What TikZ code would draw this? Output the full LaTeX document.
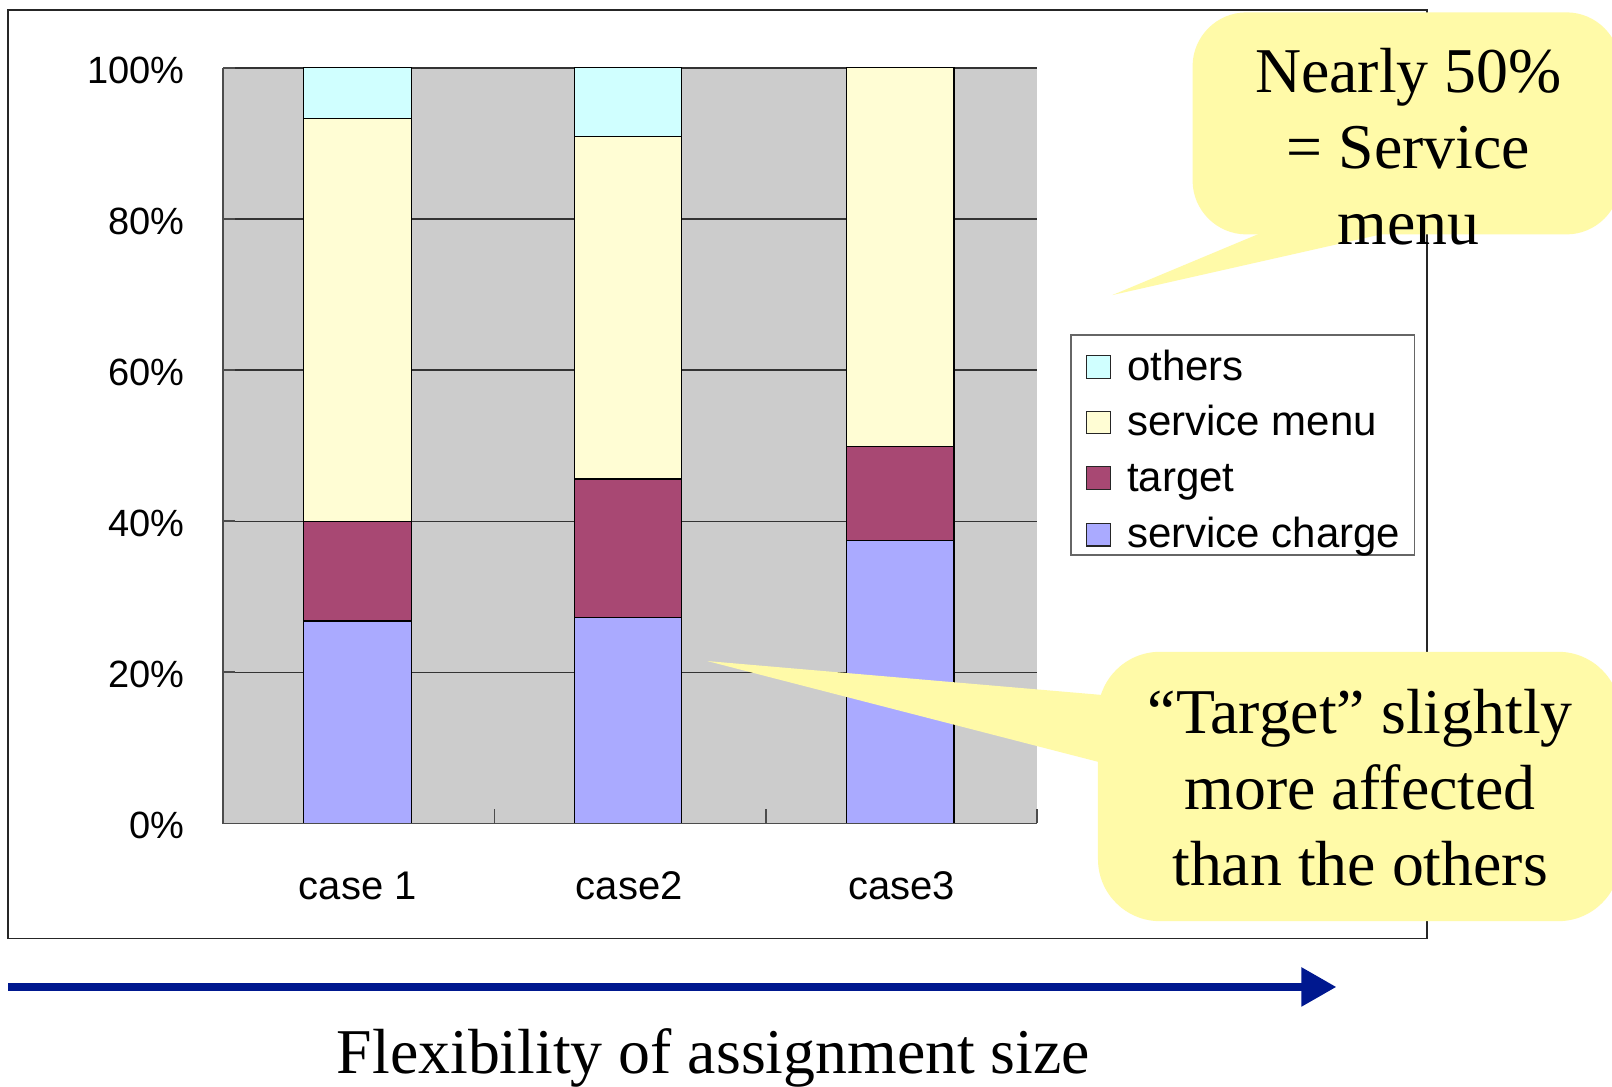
\documentclass[tikz,border=0pt]{standalone}
\usepackage{fontspec}
\setmainfont{Liberation Serif}
\newfontfamily\chartfont{Liberation Sans}
\usetikzlibrary{arrows.meta}

\definecolor{plotbg}{RGB}{204,204,204}
\definecolor{othersc}{RGB}{208,255,255}
\definecolor{menuc}{RGB}{255,253,212}
\definecolor{targetc}{RGB}{168,72,115}
\definecolor{chargec}{RGB}{170,170,255}
\definecolor{calloutc}{RGB}{255,250,168}
\definecolor{navyc}{RGB}{0,24,143}

\begin{document}
\begin{tikzpicture}[x=0.514pt,y=-0.514pt,
  framebox/.style={draw=black!85, line width=0.8pt},
  gridline/.style={draw=black!80, line width=0.7pt},
  axisline/.style={draw=black!70, line width=0.9pt},
  barseg/.style={draw=black, line width=0.6pt},
  callout/.style={fill=calloutc, draw=none},
  bigtext/.style={font=\fontsize{31.9}{38}\selectfont, inner sep=0pt, anchor=base},
  ticklab/.style={font=\chartfont\fontsize{19}{22}\selectfont, inner sep=0pt, anchor=base east},
  catlab/.style={font=\chartfont\fontsize{20}{24}\selectfont, inner sep=0pt, anchor=base},
  leglab/.style={font=\chartfont\fontsize{21}{25}\selectfont, inner sep=0pt, anchor=base west},
  swatch/.style={draw=black!85, line width=0.6pt}]

\useasboundingbox (0,0) rectangle (1568,1057);
\fill[white] (0,0) rectangle (1568,1057);

% chart frame
\draw[framebox] (8,10) rectangle (1388,913);

% plot area with horizontal grid
\fill[plotbg] (217,66) rectangle (1009,801);
\foreach \gy in {66,213,360,507,654}
  \draw[gridline] (217,\gy) -- (1009,\gy);

% stacked bars: service charge, target, service menu, others
\foreach \xl/\xr/\ya/\yb/\yc/\yd in {295/400/604/507/115/66, 559/663/601/466/133/66}{
  \filldraw[barseg, fill=chargec] (\xl,801) rectangle (\xr,\ya);
  \filldraw[barseg, fill=targetc] (\xl,\ya) rectangle (\xr,\yb);
  \filldraw[barseg, fill=menuc] (\xl,\yb) rectangle (\xr,\yc);
  \filldraw[barseg, fill=othersc] (\xl,\yc) rectangle (\xr,\yd);
}
\filldraw[barseg, fill=chargec] (823,801) rectangle (928,526);
\filldraw[barseg, fill=targetc] (823,526) rectangle (928,434);
\filldraw[barseg, fill=menuc] (823,434) rectangle (928,66);

% axes and ticks
\draw[axisline] (217,66) -- (217,801) -- (1009,801);
\foreach \gy in {66,213,360,507,654}
  \draw[axisline] (217,\gy) -- (229,\gy);
\foreach \gx in {481,745,1009}
  \draw[axisline] (\gx,801) -- (\gx,787);

% value axis labels
\node[ticklab] (t100) at (180,81) {100\%};
\node[ticklab] (t80) at (180,228) {80\%};
\node[ticklab] (t60) at (180,375) {60\%};
\node[ticklab] (t40) at (180,522) {40\%};
\node[ticklab] (t20) at (180,669) {20\%};
\node[ticklab] (t0) at (180,816) {0\%};

% category labels
\node[catlab] (case1) at (348,875) {case 1};
\node[catlab] (case2) at (612,875) {case2};
\node[catlab] (case3) at (877,875) {case3};

% legend
\draw[draw=black!60, line width=0.8pt, fill=white] (1042,326) rectangle (1376,540);
\filldraw[swatch, fill=othersc] (1057,346) rectangle (1080,368);
\filldraw[swatch, fill=menuc] (1057,400) rectangle (1080,422);
\filldraw[swatch, fill=targetc] (1057,454) rectangle (1080,476);
\filldraw[swatch, fill=chargec] (1057,509) rectangle (1080,531);
\node[leglab] (lg1) at (1096,370) {others};
\node[leglab] (lg2) at (1096,424) {service menu};
\node[leglab] (lg3) at (1096,478) {target};
\node[leglab] (lg4) at (1096,533) {service charge};

% callout on the service menu share
\fill[callout, rounded corners=27pt] (1160,12) rectangle (1576,228);
\fill[callout] (1228,226) -- (1082,287) -- (1352,226) -- cycle;
\node[bigtext] (n1) at (1370,90) {Nearly 50\%};
\node[bigtext] (n2) at (1370,164) {= Service};
\node[bigtext] (n3) at (1370,238) {menu};

% callout on the target share
\fill[callout, rounded corners=31pt] (1068,634) rectangle (1576,896);
\fill[callout] (1072,676) -- (688,643) -- (1072,742) -- cycle;
\node[bigtext] (m1) at (1323,713) {“Target” slightly};
\node[bigtext] (m2) at (1323,787) {more affected};
\node[bigtext] (m3) at (1323,861) {than the others};

% flexibility arrow
\coordinate (arrA) at (8,960);
\coordinate (arrB) at (1300,960);
\draw[navyc, line width=4.1pt, -{Triangle[length=17.5pt,width=18.5pt]}] (arrA) -- (arrB);
\node[bigtext] (xlabel) at (694,1044) {Flexibility of assignment size};
\end{tikzpicture}
\end{document}
